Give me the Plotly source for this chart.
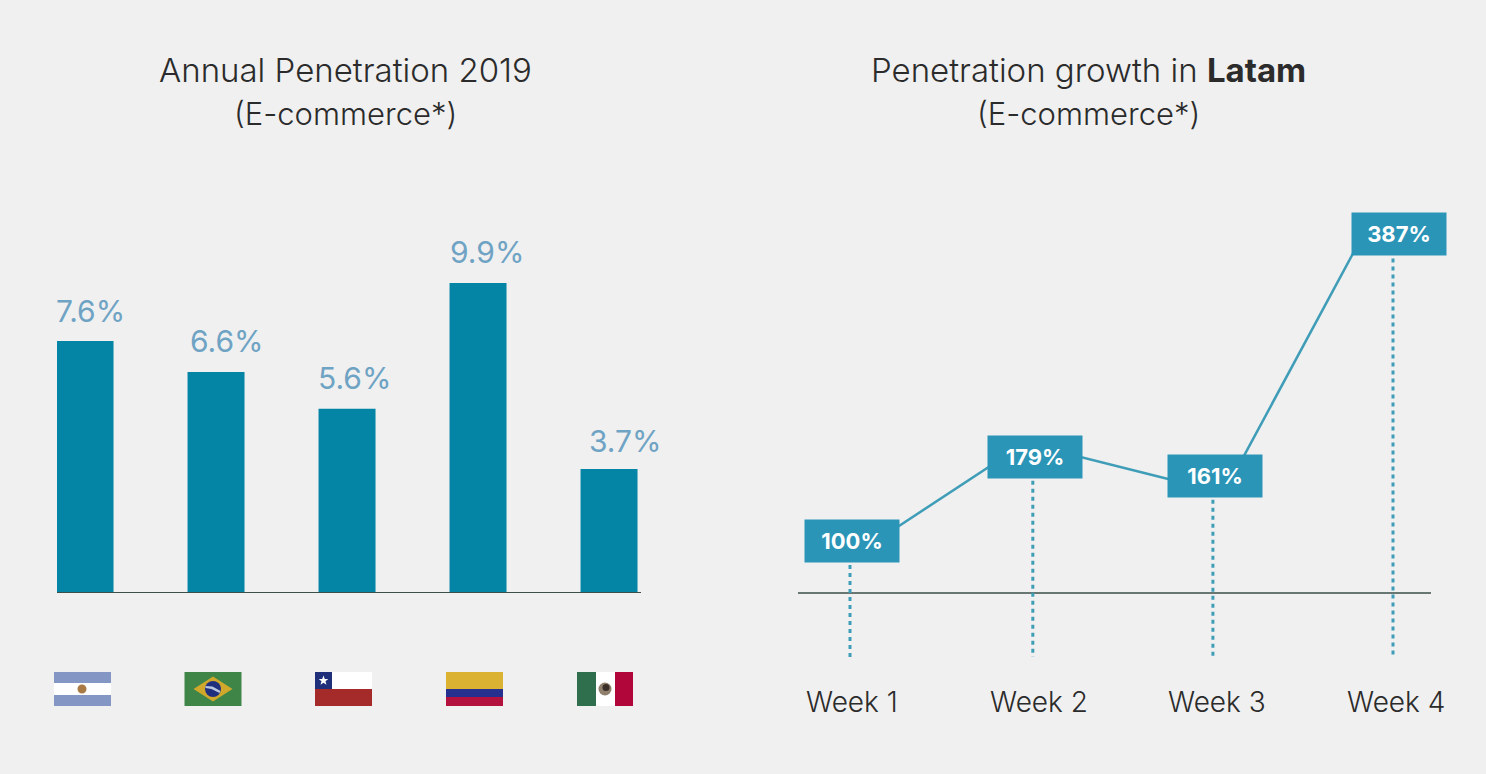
import plotly.graph_objects as go

# ---------- data ----------
countries = ["Argentina", "Brazil", "Chile", "Colombia", "Mexico"]
bar_heights = [7.57, 6.64, 5.53, 9.31, 3.72]
bar_labels = ["7.6%", "6.6%", "5.6%", "9.9%", "3.7%"]

weeks = ["Week 1", "Week 2", "Week 3", "Week 4"]
week_x = [0, 1.01, 2.005, 3.0]
growth = [100, 179, 161, 387]
growth_labels = ["100%", "179%", "161%", "387%"]
# the drawn connector bends slightly away from the boxes' centres
line_x = [0.01, 0.967, 2.066, 2.834]
line_y = [85, 191.7, 145, 386.5]

titles_left = ["Annual Penetration 2019", "(E-commerce*)"]
titles_right = ["Penetration growth in <b>Latam</b>", "(E-commerce*)"]

# ---------- style ----------
W, H = 1486, 774
BG = "#f0f0f0"
BAR = "#0585a6"
BOX = "#2b95b8"
LINE = "#3f9db8"
AXIS = "#3d4f49"
LABEL = "#6fa3c4"
TEXT = "#2b2b2b"
FONT = "Inter, Lato, sans-serif"
TITLE_SIZES = (33, 31)


def px(x):
    return x / W


def py(y):
    return 1 - y / H


fig = go.Figure()

fig.add_trace(go.Bar(x=countries, y=bar_heights, width=0.435, marker=dict(color=BAR, line_width=0),
                     xaxis="x", yaxis="y", showlegend=False))

# connector
fig.add_trace(go.Scatter(x=line_x, y=line_y, mode="lines", line=dict(color=LINE, width=2.5),
                         xaxis="x2", yaxis="y2", showlegend=False))
# droplines
Y2_LOW, Y2_HIGH = -8.6, 419.3
for wx, g in zip(week_x, growth):
    fig.add_trace(go.Scatter(x=[wx, wx], y=[g, Y2_LOW], mode="lines",
                             line=dict(color=LINE, width=3, dash="4px,4px"),
                             xaxis="x2", yaxis="y2", showlegend=False))
# baselines
BASE2 = 51.3
fig.add_shape(type="line", xref="x2 domain", yref="y2", x0=0, x1=1, y0=BASE2, y1=BASE2,
              line=dict(color=AXIS, width=1.5), layer="below")
fig.add_shape(type="line", xref="x domain", yref="y", x0=0, x1=1, y0=0, y1=0,
              line=dict(color=AXIS, width=2), layer="above")

ann = []
# titles
for lines, cx in ((titles_left, 345), (titles_right, 1088)):
    for t, cy, size in zip(lines, (70, 113), TITLE_SIZES):
        ann.append(dict(text=t, xref="paper", yref="paper", x=px(cx), y=py(cy), showarrow=False,
                        xanchor="center", yanchor="middle", font=dict(size=size, color=TEXT, family=FONT, weight=300)))
# bar labels
bar_dx = [5, 11, 7, 9, 16]
bar_dy = [30, 31, 31, 31, 28]
for c, h, lab, dx, dy in zip(countries, bar_heights, bar_labels, bar_dx, bar_dy):
    ann.append(dict(text=lab, xref="x", yref="y", x=c, y=h, xshift=dx, yshift=dy, showarrow=False,
                    xanchor="center", yanchor="middle", font=dict(size=30, color=LABEL, family=FONT)))
# boxes
box_dx = [2, 2, 2, 6]
for wx, g, lab, dx in zip(week_x, growth, growth_labels, box_dx):
    ann.append(dict(text=f"<b>{lab}</b>", xref="x2", yref="y2", x=wx, y=g, xshift=dx, showarrow=False,
                    xanchor="center", yanchor="middle", bgcolor=BOX, width=94, height=42, align="center",
                    valign="middle", borderpad=0, font=dict(size=22, color="white", family=FONT)))
# week labels
week_dx = [2, 6, 4, 3]
for wx, w, dx in zip(week_x, weeks, week_dx):
    ann.append(dict(text=w, xref="x2", yref="paper", x=wx, y=py(702), xshift=dx, showarrow=False,
                    xanchor="center", yanchor="middle", font=dict(size=28, color=TEXT, family=FONT, weight=300)))

# ---------- flags ----------
FLAG_W = 57


def rect(x0, x1, y0, y1, color):
    fig.add_shape(type="rect", xref="paper", yref="paper", x0=px(x0), x1=px(x1), y0=py(y0), y1=py(y1),
                  fillcolor=color, line_width=0)


def circle(cx, cy, r, color):
    fig.add_shape(type="circle", xref="paper", yref="paper", x0=px(cx - r), x1=px(cx + r), y0=py(cy + r),
                  y1=py(cy - r), fillcolor=color, line_width=0)


def poly(points, color):
    path = "M " + " L ".join(f"{px(a):.5f},{py(b):.5f}" for a, b in points) + " Z"
    fig.add_shape(type="path", xref="paper", yref="paper", path=path, fillcolor=color, line_width=0)


# Argentina
x = 54
rect(x, x + FLAG_W, 672, 683, "#8496c4")
rect(x, x + FLAG_W, 683, 695, "#ffffff")
rect(x, x + FLAG_W, 695, 706, "#8496c4")
circle(x + 28, 689, 4.5, "#aa7a45")
# Brazil
x = 184.5
rect(x, x + FLAG_W, 672, 706, "#3f8548")
poly([(x + 9, 689), (x + 28.5, 676.5), (x + 48, 689), (x + 28.5, 701.5)], "#cfa82c")
circle(x + 28.5, 689, 8, "#20307f")
poly([(x + 21, 686), (x + 28, 686.5), (x + 36, 691), (x + 35, 693), (x + 27, 689), (x + 21, 688)], "#b9c6e0")
# Chile
x = 315
rect(x, x + FLAG_W, 672, 689, "#ffffff")
rect(x, x + FLAG_W, 689, 706, "#a52a2a")
rect(x, x + 17, 672, 689, "#1f2f7a")
sx, sy = x + 8.5, 680.5
poly([(sx, sy - 5), (sx + 1.3, sy - 1.6), (sx + 4.8, sy - 1.5), (sx + 2, sy + .7), (sx + 3, sy + 4.2), (sx, sy + 2.2),
      (sx - 3, sy + 4.2), (sx - 2, sy + .7), (sx - 4.8, sy - 1.5), (sx - 1.3, sy - 1.6)], "#ffffff")
# Colombia
x = 446
rect(x, x + FLAG_W, 672, 689, "#dcb232")
rect(x, x + FLAG_W, 689, 697, "#26308f")
rect(x, x + FLAG_W, 697, 706, "#b3123e")
# Mexico
x = 577
rect(x, x + 19, 672, 706, "#2f6f4d")
rect(x + 19, x + 38, 672, 706, "#ffffff")
rect(x + 38, x + FLAG_W - 1, 672, 706, "#b0063a")
circle(x + 28, 689, 6.5, "#8f7f6c")
circle(x + 29, 687.5, 3.5, "#3a2f28")

fig.update_layout(
    width=W, height=H, margin=dict(l=0, r=0, t=0, b=0), autosize=False,
    paper_bgcolor=BG, plot_bgcolor="rgba(0,0,0,0)", annotations=ann,
    font=dict(family=FONT, color=TEXT),
    xaxis=dict(domain=[px(57), px(641)], type="category", categoryorder="array", categoryarray=countries,
               range=[-0.214, 4.244], showticklabels=False, showgrid=False, zeroline=False, ticks="",
               showline=False, anchor="y"),
    yaxis=dict(domain=[py(593), py(140)], range=[0, 453 / 33.3], visible=False, anchor="x"),
    xaxis2=dict(domain=[px(798), px(1431)], range=[(798 - 850) / 181, (1431 - 850) / 181], visible=False, anchor="y2"),
    yaxis2=dict(domain=[py(657), py(200)], range=[Y2_LOW, Y2_HIGH], visible=False, anchor="x2"),
)

fig.write_html("out.html", config=dict(displayModeBar=False),
               post_script="document.body.style.margin='0';document.body.style.overflow='hidden';")
